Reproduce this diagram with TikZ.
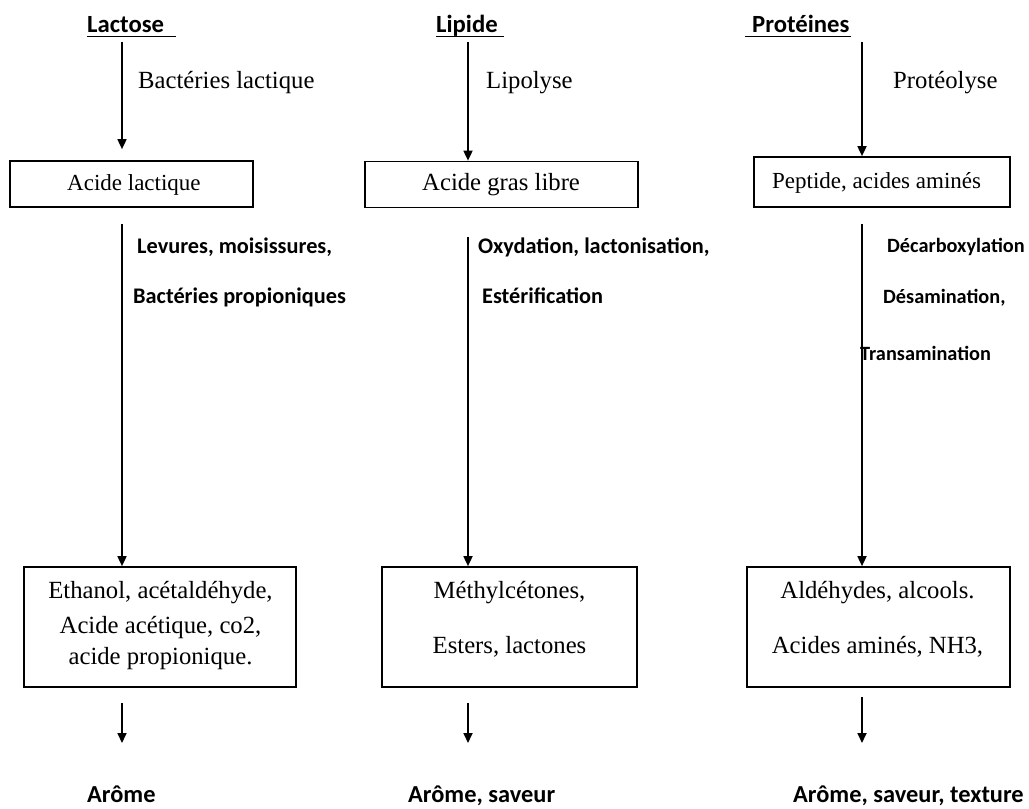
\documentclass[tikz,border=0pt]{standalone}
\usepackage{fontspec}
\setmainfont{Liberation Serif}
\newfontfamily\calfont{Carlito}
\usetikzlibrary{arrows.meta,calc}
\begin{document}
\begin{tikzpicture}[x=1pt,y=-1pt,
  serif/.style={inner sep=0pt,anchor=base west,font=\fontsize{24.7}{29}\selectfont},
  small/.style={font=\fontsize{23}{27}\selectfont},
  lab/.style={inner sep=0pt,anchor=base west,font=\calfont\bfseries\fontsize{22.3}{26}\selectfont},
  labp/.style={lab,font=\calfont\bfseries\fontsize{20.3}{24}\selectfont},
  head/.style={inner sep=0pt,anchor=base west,font=\calfont\bfseries\fontsize{24.7}{28}\selectfont},
  res/.style={inner sep=0pt,anchor=base west,font=\calfont\bfseries\fontsize{24.4}{28}\selectfont},
  box/.style={draw,line width=1.7pt,inner sep=0pt},
  arr/.style={line width=1.7pt,-{Triangle[width=9pt,length=10pt]}}]
\useasboundingbox (0,0) rectangle (1029,809);
% headings
\node[head] (h1) at (87,32) {Lactose};
\node[head] (h2) at (436,32) {Lipide};
\node[head] (h3) at (752,32) {Protéines};
\draw[line width=1.5pt] (87,36.5) -- (176,36.5);
\draw[line width=1.5pt] (436,36.5) -- (504,36.5);
\draw[line width=1.5pt] (745,36.5) -- (851,36.5);
% first boxes
\node[box,minimum width=243pt,minimum height=46pt] (a1) at (131.5,184) {};
\node[box,minimum width=273pt,minimum height=46pt] (a2) at (501.5,184.5) {};
\node[box,minimum width=256pt,minimum height=50pt] (a3) at (882,182) {};
\node[serif,small] (ta1) at (67,190) {Acide lactique};
\node[serif] (ta2) at (422,190) {Acide gras libre};
\node[serif,small] (ta3) at (772,188) {Peptide, acides aminés};
% first arrows
\coordinate (s1) at (122,42);
\coordinate (s2) at (468,42);
\coordinate (s3) at (862,42);
\draw[arr] (s1) -- ($(s1 |- a1.north)+(0,-11)$);
\draw[arr] (s2) -- (s2 |- a2.north);
\draw[arr] (s3) -- (s3 |- a3.north);
\node[serif] (l1) at (138,88) {Bactéries lactique};
\node[serif] (l2) at (486,88) {Lipolyse};
\node[serif] (l3) at (893,88) {Protéolyse};
% second boxes
\node[box,minimum width=272pt,minimum height=120pt] (b1) at (160,627) {};
\node[box,minimum width=255pt,minimum height=120pt] (b2) at (509.5,627) {};
\node[box,minimum width=263pt,minimum height=120pt] (b3) at (878.5,627) {};
\node[serif,anchor=base] (tb1a) at (160.5,598) {Ethanol, acétaldéhyde,};
\node[serif,anchor=base] (tb1b) at (160.5,633) {Acide acétique, co2,};
\node[serif,anchor=base] (tb1c) at (160.5,664) {acide propionique.};
\node[serif,anchor=base] (tb2a) at (509.5,598) {Méthylcétones,};
\node[serif,anchor=base] (tb2b) at (509.5,653) {Esters, lactones};
\node[serif,anchor=base] (tb3a) at (877.5,598) {Aldéhydes, alcools.};
\node[serif,anchor=base] (tb3b) at (877.5,653) {Acides aminés, NH3,};
% second connectors
\coordinate (c1) at (122,224);
\coordinate (c2) at (468,237);
\coordinate (c3) at (862,224);
\draw[arr] (c1) -- (c1 |- b1.north);
\draw[arr] (c2) -- (c2 |- b2.north);
\draw[arr] (c3) -- (c3 |- b3.north);
\node[lab] (m1a) at (137,253) {Levures, moisissures,};
\node[lab] (m1b) at (133,303) {Bactéries propioniques};
\node[lab] (m2a) at (478,253) {Oxydation, lactonisation,};
\node[lab] (m2b) at (482,303) {Estérification};
\node[labp] (m3a) at (887,252) {Décarboxylation};
\node[labp] (m3b) at (883,303) {Désamination,};
\node[labp] (m3c) at (860,360) {Transamination};
% results
\node[res] (r1) at (87,802) {Arôme};
\node[res] (r2) at (408,802) {Arôme, saveur};
\node[res] (r3) at (793,802) {Arôme, saveur, texture};
\coordinate (d1) at (122,703);
\coordinate (d2) at (468,703);
\coordinate (d3) at (862,697);
\coordinate (e1) at (122,743);
\coordinate (e2) at (468,743);
\coordinate (e3) at (862,743);
\draw[arr] (d1) -- (e1);
\draw[arr] (d2) -- (e2);
\draw[arr] (d3) -- (e3);
\end{tikzpicture}
\end{document}
